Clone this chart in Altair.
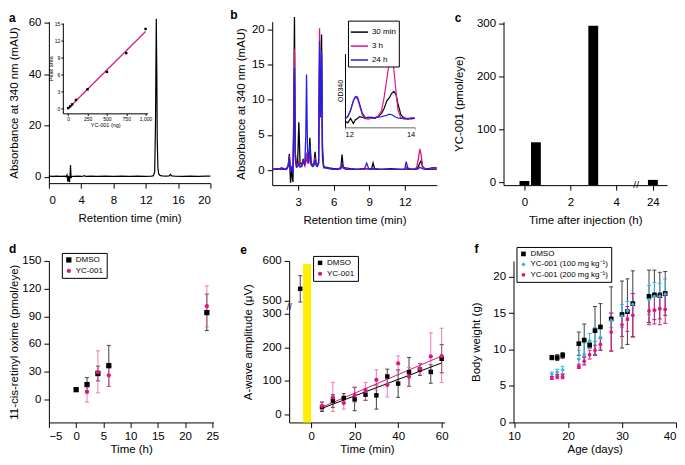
import altair as alt
import pandas as pd

FONT = "Liberation Sans"
INK = "#000000"
MAG = "#E0147E"
BLUE = "#2020E8"
CYAN = "#35B3E6"
YELLOW = "#FFEE00"
ERR_GREY = "#404040"
ERR_PINK = "#EA5AA4"

# ---------------- panel a : chromatogram + calibration inset ----------------
a_time = [0.0, 0.5, 1.0, 1.5, 2.0, 2.15, 2.25, 2.35, 2.45, 2.55, 2.62, 2.68, 2.75, 2.85, 3.1, 3.6,
          4.1, 4.4, 4.6, 5.2, 6.0, 7.0, 8.0, 9.0, 10.0, 11.0, 12.0, 12.7, 12.95, 13.1, 13.2, 13.3,
          13.36, 13.42, 13.5, 13.6, 13.75, 14.0, 14.5, 14.9, 15.05, 15.2, 15.6, 16.5, 17.5, 18.5, 19.5, 20.0]
a_abs = [0.3, 0.2, 0.3, 0.2, 0.3, 0.1, 0.8, -1.8, 0.4, -2.0, 0.5, 4.6, -0.4, 0.3, 0.2, 0.3,
         0.2, 0.5, 0.2, 0.3, 0.2, 0.3, 0.2, 0.3, 0.2, 0.3, 0.2, 0.3, 0.5, 2.0, 20.0, 61.5,
         42.0, 14.0, 3.5, 1.2, 0.6, 0.4, 0.3, 0.4, 1.0, 0.4, 0.3, 0.2, 0.3, 0.2, 0.3, 0.3]
cal_ng = [0, 25, 50, 100, 250, 500, 750, 1000]
cal_area = [0.0, 0.3, 0.65, 1.45, 3.35, 6.45, 9.8, 14.1]

# ---------------- panel b : chromatograms at three times ----------------
b_series = ["30 min", "3 h", "24 h"]
b_time = [0.8, 1.2, 1.6, 2.0, 2.15, 2.25, 2.35, 2.45, 2.55, 2.62, 2.68, 2.75, 2.85, 2.95, 3.05, 3.15,
          3.3, 3.42, 3.55, 3.64, 3.7, 3.78, 3.88, 3.98, 4.08, 4.2, 4.32, 4.42, 4.52, 4.62, 4.72, 4.8,
          4.88, 4.97, 5.05, 5.15, 5.3, 5.6, 6.0, 6.4, 6.6, 6.7, 6.8, 7.0, 7.4, 8.0, 8.6, 8.78,
          8.95, 9.2, 9.32, 9.45, 10.0, 10.8, 11.6, 12.0, 12.12, 12.25, 12.6, 13.0, 13.15, 13.27, 13.38, 13.5,
          13.7, 14.0, 14.3, 14.7]
b_30min = [0.2, 0.1, 0.3, 0.1, 0.6, 2.3, -1.8, 0.2, -1.7, 8.0, 21.8, 2.5, 0.6, 1.2, 6.8, 1.0,
           0.8, 1.6, 0.7, 1.4, 2.4, 1.2, 1.3, 4.6, 1.2, 0.7, 0.8, 2.6, 0.8, 0.6, 1.0, 15.5,
           9.0, 19.3, 3.0, 0.5, 0.4, 0.3, 0.2, 0.2, 0.3, 2.2, 0.4, 0.3, 0.2, 0.1, 0.2, 0.2,
           0.1, 0.2, 1.0, 0.2, 0.1, 0.2, 0.1, 0.1, 0.2, 0.1, 0.1, 0.2, 0.5, 1.0, 1.3, 0.5,
           0.2, 0.2, 0.3, 0.3]
b_3h = [0.2, 0.2, 0.1, 0.2, 0.7, 2.0, 0.2, 0.5, -0.3, 6.0, 17.3, 2.0, 0.5, 0.6, 1.2, 0.6,
        0.6, 1.3, 0.6, 1.3, 2.5, 1.0, 1.0, 3.0, 0.9, 0.6, 0.8, 1.8, 0.8, 0.6, 1.2, 20.2,
        8.0, 16.5, 2.0, 0.4, 0.3, 0.2, 0.1, 0.2, 0.3, 0.9, 0.3, 0.2, 0.1, 0.1, 0.1, 0.2,
        0.1, 0.1, 0.2, 0.1, 0.1, 0.1, 0.1, 0.1, 0.4, 0.2, 0.1, 0.3, 1.6, 3.0, 2.2, 0.6,
        0.2, 0.1, 0.2, 0.2]
b_24h = [0.1, 0.2, 0.1, 0.1, 0.5, 1.8, -0.2, 0.4, -0.5, 5.0, 14.5, 1.5, 0.4, 0.5, 0.9, 0.4,
         0.5, 1.2, 0.8, 5.0, 13.6, 3.0, 1.0, 3.6, 0.8, 0.5, 0.6, 1.5, 0.6, 0.5, 1.0, 18.4,
         7.5, 17.0, 1.6, 0.3, 0.3, 0.2, 0.1, 0.1, 0.2, 0.9, 0.3, 0.1, 0.1, 0.1, 0.2, 1.0,
         0.2, 0.1, 0.2, 0.1, 0.1, 0.1, 0.1, 0.1, 1.2, 0.3, 0.1, 0.1, 0.2, 0.4, 0.3, 0.2,
         0.1, 0.1, 0.1, 0.1]
# inset (12-14 min, OD340, relative units)
bi_time = [12.0, 12.08, 12.16, 12.24, 12.3, 12.36, 12.42, 12.5, 12.58, 12.66, 12.75, 12.85, 12.95,
           13.05, 13.12, 13.2, 13.27, 13.34, 13.4, 13.46, 13.52, 13.6, 13.7, 13.8, 13.9, 14.0]
bi_30min = [-0.02, -0.05, 0.02, -0.06, 0.0, 0.02, 0.05, 0.04, 0.02, 0.04, 0.03, 0.02, 0.05,
            0.10, 0.18, 0.30, 0.35, 0.42, 0.45, 0.40, 0.25, 0.08, 0.02, 0.01, 0.02, 0.02]
bi_3h = [0.01, 0.05, 0.15, 0.30, 0.36, 0.33, 0.22, 0.07, 0.02, 0.01, 0.02, 0.03, 0.06,
         0.15, 0.35, 0.65, 0.92, 1.0, 0.80, 0.45, 0.15, 0.03, 0.01, 0.02, 0.01, 0.02]
bi_24h = [0.02, 0.05, 0.15, 0.30, 0.37, 0.36, 0.25, 0.10, 0.04, 0.03, 0.04, 0.03, 0.04,
          0.05, 0.06, 0.07, 0.09, 0.08, 0.06, 0.04, 0.03, 0.02, 0.03, 0.02, 0.03, 0.03]

# ---------------- panel c : YC-001 in eye ----------------
c_time_h = [0, 0.5, 3, 24]
c_amount = [3, 76, 296, 5]

# ---------------- panel d : 11-cis-retinyl oxime ----------------
d_time_dmso = [0, 2, 4, 6, 24]
d_dmso = [10.5, 16.0, 28.0, 36.5, 94.0]
d_dmso_lo = [9.5, 9.0, 20.0, 14.0, 74.5]
d_dmso_hi = [11.5, 23.5, 36.0, 58.5, 114.0]
d_time_yc = [2, 4, 6, 24]
d_yc = [8.0, 29.5, 26.0, 101.0]
d_yc_lo = [-3.0, 7.0, 14.0, 78.5]
d_yc_hi = [18.0, 52.5, 38.0, 123.0]

# ---------------- panel e : A-wave amplitude ----------------
e_time = [5, 10, 15, 20, 25, 30, 35, 40, 45, 50, 55, 60]
e_dmso = [22, 41, 49, 45, 59, 57, 113, 92, 126, 134, 127, 166]
e_dmso_lo = [9, 21, 36, 11, 42, 16, 90, 51, 84, 116, 93, 124]
e_dmso_hi = [37, 59, 62, 80, 76, 88, 135, 133, 170, 152, 148, 208]
e_yc = [25, 51, 34, 58, 70, 103, 88, 152, 112, 136, 173, 174]
e_yc_lo = [12, 9, 16, 36, 43, 73, 52, 130, 84, 118, 120, 95]
e_yc_hi = [38, 95, 50, 82, 95, 133, 120, 174, 140, 152, 243, 257]
e_pre_time = [-5]
e_pre = [530]
e_pre_lo = [497]
e_pre_hi = [563]
e_light_start, e_light_end, e_light_top = -3.7, 0.0, 592

# ---------------- panel f : body weight ----------------
f_day = [17, 18, 19, 22, 23, 24, 25, 26, 28, 30, 31, 32, 35, 36, 37, 38]
f_dmso = [8.9, 8.9, 9.2, 10.8, 11.3, 10.6, 12.6, 13.1, 14.2, 14.8, 15.2, 16.3, 17.3, 17.5, 17.4, 17.7]
f_dmso_sd = [0.3, 0.4, 0.4, 1.6, 2.2, 0.4, 3.3, 3.2, 4.4, 4.6, 4.5, 4.5, 3.6, 3.4, 3.2, 3.0]
f_yc100 = [6.6, 6.9, 7.2, 8.7, 9.4, 11.2, 11.1, 11.7, 14.0, 14.6, 15.3, 16.2, 16.8, 17.3, 17.3, 17.6]
f_yc100_sd = [0.3, 0.4, 0.5, 1.2, 1.5, 1.0, 1.9, 1.5, 1.0, 1.6, 1.3, 1.5, 2.0, 1.9, 1.8, 2.1]
f_yc200 = [6.1, 6.3, 6.3, 7.7, 8.4, 9.3, 9.9, 10.7, 12.4, 13.4, 14.2, 14.7, 15.3, 15.4, 15.6, 15.5]
f_yc200_sd = [0.2, 0.3, 0.3, 0.3, 0.5, 0.6, 0.7, 0.8, 2.6, 1.6, 1.7, 3.0, 1.9, 1.9, 2.2, 1.9]
f_groups = ["DMSO", "YC-001 (100 mg kg\u207b\u00b9)", "YC-001 (200 mg kg\u207b\u00b9)"]


# ============================ helpers ============================
def ax(values=None, title=None, tp=6, lp=3, **kw):
    d = dict(title=title, titlePadding=tp, labelPadding=lp, tickSize=5, grid=False,
             domainColor=INK, tickColor=INK, labelColor=INK, titleColor=INK,
             labelFontSize=11.5, titleFontSize=11.5, titleFontWeight="normal",
             labelFont=FONT, titleFont=FONT, domainWidth=1, tickWidth=1)
    if values is not None:
        d["values"] = values
    d.update(kw)
    return alt.Axis(**d)


def small_ax(**kw):
    d = dict(grid=False, domainColor=INK, tickColor=INK, labelColor=INK, titleColor=INK,
             titleFontWeight="normal", labelFont=FONT, titleFont=FONT, tickSize=2, labelPadding=1)
    d.update(kw)
    return alt.Axis(**d)


def letter(s, dx, dy):
    return alt.TitleParams(s, anchor="start", frame="group", dx=dx, dy=dy, offset=0, fontSize=12,
                           fontWeight="bold", font=FONT, color=INK, baseline="alphabetic")


def legend(x, y, fs=8, rp=3, **kw):
    d = dict(title=None, orient="none", legendX=x, legendY=y, strokeColor=INK, fillColor="white",
             padding=3, labelFontSize=fs, labelFont=FONT, labelColor=INK, rowPadding=rp,
             labelOffset=3)
    d.update(kw)
    return alt.Legend(**d)


def long_df(groups):
    rows = []
    for name, ts, ms, los, his in groups:
        for t, m, lo, hi in zip(ts, ms, los, his):
            rows.append({"grp": name, "t": t, "m": m, "lo": lo, "hi": hi})
    return pd.DataFrame(rows)


def err_layers(src, grp, color, X, Y, ylo="lo", yhi="hi", cap=5, opacity=1.0):
    s = src.transform_filter(alt.datum.grp == grp)
    rule = s.mark_rule(color=color, strokeWidth=1, opacity=opacity).encode(
        x=X("t"), y=Y(ylo), y2=alt.Y2(yhi))
    lo = s.mark_tick(color=color, orient="horizontal", size=cap, thickness=1, opacity=opacity).encode(
        x=X("t"), y=Y(ylo))
    hi = s.mark_tick(color=color, orient="horizontal", size=cap, thickness=1, opacity=opacity).encode(
        x=X("t"), y=Y(yhi))
    return [rule, lo, hi]


def gap(w):
    return alt.Chart(pd.DataFrame({"g": [0]})).mark_point(opacity=0).encode(
        x=alt.value(0), y=alt.value(0)).properties(width=w, height=20)


INDEP = dict(color="independent", shape="independent", size="independent", stroke="independent")

# ============================ panel a ============================
AW, AH = 162, 162
a_main = alt.Chart(pd.DataFrame({"t": a_time, "v": a_abs})).mark_line(color=INK, strokeWidth=1.2).encode(
    x=alt.X("t:Q", scale=alt.Scale(domain=[0, 20], nice=False, zero=False),
            axis=ax([0, 4, 8, 12, 16, 20], "Retention time (min)", tp=7, lp=6)),
    y=alt.Y("v:Q", scale=alt.Scale(domain=[-2.4, 60.4], nice=False, zero=False),
            axis=ax([0, 20, 40, 60], "Absorbance at 340 nm (mAU)", tp=9)),
)
cal = pd.DataFrame({"ng": cal_ng, "area": cal_area})
ai_x = alt.X("ng:Q", scale=alt.Scale(domain=[-70, 1026], range=[14, 99], nice=False, zero=False),
             axis=small_ax(orient="bottom", offset=92 - AH, values=[0, 250, 500, 750, 1000],
                           title="YC-001 (ng)", labelFontSize=5, titleFontSize=5.5, titlePadding=1))
ai_y = alt.Y("area:Q", scale=alt.Scale(domain=[-0.94, 15.14], range=[92, 1.5], nice=False, zero=False),
             axis=small_ax(orient="left", offset=-14, values=[0, 3, 6, 9, 12, 15],
                           title="Peak area", labelFontSize=5, titleFontSize=5.5, titlePadding=1))
a_fit = alt.Chart(cal).transform_regression("ng", "area").mark_line(color=MAG, strokeWidth=1.2).encode(
    x=ai_x, y=ai_y)
a_pts = alt.Chart(cal).mark_point(shape="square", filled=True, color=INK, size=6, opacity=1).encode(
    x=ai_x, y=ai_y)
panel_a = alt.layer(a_main, alt.layer(a_fit, a_pts)).resolve_scale(
    x="independent", y="independent").properties(width=AW, height=AH, title=letter("a", -40, 17.5))

# ============================ panel b ============================
BW, BH = 165, 164
b_rows = []
for name, vals in zip(b_series, [b_30min, b_3h, b_24h]):
    for t, v in zip(b_time, vals):
        b_rows.append({"series": name, "t": t, "v": v})
bi_rows = []
for name, vals in zip(b_series, [bi_30min, bi_3h, bi_24h]):
    for t, v in zip(bi_time, vals):
        bi_rows.append({"series": name, "t": t, "v": v})
b_main = alt.Chart(pd.DataFrame(b_rows)).mark_line(strokeWidth=1.3).encode(
    x=alt.X("t:Q", scale=alt.Scale(domain=[0.8, 14.7], nice=False, zero=False),
            axis=ax([3, 6, 9, 12], "Retention time (min)", tp=7, lp=6)),
    y=alt.Y("v:Q", scale=alt.Scale(domain=[-2.15, 21.15], nice=False, zero=False),
            axis=ax([0, 5, 10, 15, 20], "Absorbance at 340 nm (mAU)", tp=5)),
    color=alt.Color("series:N", scale=alt.Scale(domain=b_series, range=[INK, MAG, BLUE]),
                    legend=legend(76, -1, fs=8, rp=0, symbolType="stroke", symbolSize=300,
                                  symbolStrokeWidth=1.5, padding=2)),
)
b_inset = alt.Chart(pd.DataFrame(bi_rows)).mark_line(strokeWidth=1.2).encode(
    x=alt.X("t:Q", scale=alt.Scale(domain=[12, 14], range=[73, 143], nice=False, zero=False),
            axis=small_ax(orient="bottom", offset=106 - BH, values=[12, 14], title=None,
                          labelFontSize=7.5, domainColor="#9a9a9a", domainWidth=1.5, tickColor="#9a9a9a")),
    y=alt.Y("v:Q", scale=alt.Scale(domain=[-0.12, 1.05], range=[106, 32], nice=False, zero=False),
            axis=small_ax(orient="left", offset=-73, ticks=False, labels=False, title="OD340",
                          titleFontSize=7, titlePadding=2)),
    stroke=alt.Stroke("series:N", scale=alt.Scale(domain=b_series, range=[INK, MAG, BLUE]), legend=None),
)
panel_b = alt.layer(b_main, b_inset).resolve_scale(
    x="independent", y="independent").properties(width=BW, height=BH, title=letter("b", -42, 16.6))

# ============================ panel c ============================
CW, CH = 164, 164
C_FLOOR = -4.9
c_base = alt.Chart(pd.DataFrame({"t": c_time_h, "amt": c_amount})).transform_calculate(
    pos="datum.t == 24 ? 5.6 : datum.t").transform_calculate(
    lo="datum.pos - 0.215", hi="datum.pos + 0.215", floor=str(C_FLOOR))
c_x = dict(scale=alt.Scale(domain=[-0.913, 6.217], nice=False, zero=False),
           axis=ax([0, 2, 4, 5.6], "Time after injection (h)", tp=7, lp=6,
                   labelExpr="datum.value > 5 ? '24' : datum.label"))
c_y = dict(scale=alt.Scale(domain=[C_FLOOR, 303.8], nice=False, zero=False),
           axis=ax([0, 100, 200, 300], "YC-001 (pmol/eye)", tp=12))
c_bars = c_base.mark_bar(color=INK).encode(
    x=alt.X("lo:Q", **c_x), x2=alt.X2("hi"), y=alt.Y("amt:Q", **c_y), y2=alt.Y2("floor"))
c_break = alt.Chart(pd.DataFrame({"pos": [4.87], "y": [C_FLOOR]})).mark_text(
    text="//", fontSize=10, font=FONT, color=INK, baseline="middle").encode(
    x=alt.X("pos:Q", **c_x), y=alt.Y("y:Q", **c_y))
panel_c = alt.layer(c_bars, c_break).properties(width=CW, height=CH, title=letter("c", -49, 16))

# ============================ panel d ============================
DW, DH = 165, 162
d_df = long_df([("DMSO", d_time_dmso, d_dmso, d_dmso_lo, d_dmso_hi),
                ("YC-001", d_time_yc, d_yc, d_yc_lo, d_yc_hi)])


def d_X(f):
    return alt.X(f"{f}:Q", scale=alt.Scale(domain=[-5, 25.2], nice=False, zero=False),
                 axis=ax([-5, 0, 5, 10, 15, 20, 25], "Time (h)", tp=2, lp=3))


def d_Y(f):
    return alt.Y(f"{f}:Q", scale=alt.Scale(domain=[-25, 150], nice=False, zero=False),
                 axis=ax([0, 30, 60, 90, 120, 150], "11-cis-retinyl oxime (pmol/eye)", tp=2))


d_src = alt.Chart(d_df)
d_leg = legend(13, -8, fs=8, rp=3)
d_pts = d_src.mark_point(filled=True, opacity=1).encode(
    x=d_X("t"), y=d_Y("m"),
    color=alt.Color("grp:N", scale=alt.Scale(domain=["DMSO", "YC-001"], range=[INK, MAG]), legend=d_leg),
    shape=alt.Shape("grp:N", scale=alt.Scale(domain=["DMSO", "YC-001"], range=["square", "circle"]), legend=d_leg),
    size=alt.Size("grp:N", scale=alt.Scale(domain=["DMSO", "YC-001"], range=[28, 18]), legend=None),
)
panel_d = alt.layer(
    *err_layers(d_src, "DMSO", ERR_GREY, d_X, d_Y, cap=4),
    *err_layers(d_src, "YC-001", ERR_PINK, d_X, d_Y, cap=4, opacity=0.8),
    d_pts,
).properties(width=DW, height=DH, title=letter("d", -40, 13))

# ============================ panel e ============================
EW, EH = 156, 162
E_FLOOR = -23.7
BRK = "(datum.{f} <= 300 ? datum.{f} : 338.6 + (datum.{f} - 500) * 1.188)"
e_df = long_df([("DMSO", e_time, e_dmso, e_dmso_lo, e_dmso_hi),
                ("YC-001", e_time, e_yc, e_yc_lo, e_yc_hi),
                ("DMSO", e_pre_time, e_pre, e_pre_lo, e_pre_hi)])
e_src = alt.Chart(e_df).transform_calculate(
    dm=BRK.format(f="m"), dlo=BRK.format(f="lo"), dhi=BRK.format(f="hi"))


def e_X(f):
    return alt.X(f"{f}:Q", scale=alt.Scale(domain=[-10.1, 61.4], nice=False, zero=False),
                 axis=ax([0, 20, 40, 60], "Time (min)", tp=2, lp=3))


def e_Y(f):
    return alt.Y(f"{f}:Q", scale=alt.Scale(domain=[E_FLOOR, 457.4], nice=False, zero=False),
                 axis=ax([0, 100, 200, 300, 338.6, 457.4], "A-wave amplitude (\u03bcV)", tp=9,
                         labelExpr="datum.value > 400 ? '600' : (datum.value > 320 ? '500' : datum.label)"))


light = alt.Chart(pd.DataFrame({"t0": [e_light_start], "t1": [e_light_end], "top": [e_light_top],
                                "bot": [E_FLOOR]})).transform_calculate(
    dtop=BRK.format(f="top")).mark_rect(color=YELLOW).encode(
    x=e_X("t0"), x2=alt.X2("t1"), y=e_Y("bot"), y2=alt.Y2("dtop"))
e_fit_d = e_src.transform_filter("datum.t >= 5 && datum.grp == 'DMSO'").transform_regression(
    "t", "dm").mark_line(color=INK, strokeWidth=1).encode(x=e_X("t"), y=e_Y("dm"))
e_fit_y = e_src.transform_filter("datum.t >= 5 && datum.grp == 'YC-001'").transform_regression(
    "t", "dm").mark_line(color=MAG, strokeWidth=1).encode(x=e_X("t"), y=e_Y("dm"))
e_leg = legend(24, -5, fs=8, rp=3)
e_pts = e_src.mark_point(filled=True, opacity=1).encode(
    x=e_X("t"), y=e_Y("dm"),
    color=alt.Color("grp:N", scale=alt.Scale(domain=["DMSO", "YC-001"], range=[INK, MAG]), legend=e_leg),
    shape=alt.Shape("grp:N", scale=alt.Scale(domain=["DMSO", "YC-001"], range=["square", "circle"]), legend=e_leg),
    size=alt.Size("grp:N", scale=alt.Scale(domain=["DMSO", "YC-001"], range=[20, 18]), legend=None),
)
e_break = alt.Chart(pd.DataFrame({"t": [-10.1], "y": [319]})).mark_text(
    text="//", fontSize=9, font=FONT, color=INK, baseline="middle").encode(x=e_X("t"), y=e_Y("y"))
panel_e = alt.layer(
    light,
    *err_layers(e_src, "DMSO", ERR_GREY, e_X, e_Y, ylo="dlo", yhi="dhi", cap=4),
    *err_layers(e_src, "YC-001", ERR_PINK, e_X, e_Y, ylo="dlo", yhi="dhi", cap=4, opacity=0.8),
    e_fit_d, e_fit_y, e_pts, e_break,
).properties(width=EW, height=EH, title=letter("e", -49, 11.5))

# ============================ panel f ============================
FW, FH = 163, 162
f_df = long_df([
    (f_groups[0], f_day, f_dmso, [m - s for m, s in zip(f_dmso, f_dmso_sd)], [m + s for m, s in zip(f_dmso, f_dmso_sd)]),
    (f_groups[1], f_day, f_yc100, [m - s for m, s in zip(f_yc100, f_yc100_sd)], [m + s for m, s in zip(f_yc100, f_yc100_sd)]),
    (f_groups[2], f_day, f_yc200, [m - s for m, s in zip(f_yc200, f_yc200_sd)], [m + s for m, s in zip(f_yc200, f_yc200_sd)]),
])


def f_X(f):
    return alt.X(f"{f}:Q", scale=alt.Scale(domain=[9.9, 40], nice=False, zero=False),
                 axis=ax([10, 20, 30, 40], "Age (days)", tp=2, lp=3, labelFlush=0.3))


def f_Y(f):
    return alt.Y(f"{f}:Q", scale=alt.Scale(domain=[0, 22.16], nice=False, zero=False),
                 axis=ax([0, 5, 10, 15, 20], "Body weight (g)", tp=11))


f_src = alt.Chart(f_df)
f_leg = legend(3, -14, fs=8, rp=2.5)
f_pts = f_src.mark_point(filled=True, opacity=1).encode(
    x=f_X("t"), y=f_Y("m"),
    color=alt.Color("grp:N", scale=alt.Scale(domain=f_groups, range=[INK, CYAN, MAG]), legend=f_leg),
    shape=alt.Shape("grp:N", scale=alt.Scale(domain=f_groups, range=["square", "diamond", "circle"]), legend=f_leg),
    size=alt.Size("grp:N", scale=alt.Scale(domain=f_groups, range=[22, 14, 22]), legend=None),
)
panel_f = alt.layer(
    *err_layers(f_src, f_groups[0], ERR_GREY, f_X, f_Y, cap=4),
    *err_layers(f_src, f_groups[1], CYAN, f_X, f_Y, cap=4),
    *err_layers(f_src, f_groups[2], MAG, f_X, f_Y, cap=4),
    f_pts,
).properties(width=FW, height=FH, title=letter("f", -39, 19))

# ============================ assemble ============================
row1 = alt.hconcat(panel_a, gap(62), panel_b, gap(67), panel_c,
                   spacing=0, bounds="flush").resolve_scale(**INDEP)
row2 = alt.hconcat(panel_d, gap(76), panel_e, gap(69), panel_f,
                   spacing=0, bounds="flush").resolve_scale(**INDEP)
chart = alt.vconcat(row1, row2, spacing=240, bounds="flush").resolve_scale(**INDEP).properties(
    padding={"left": 0, "top": 0, "right": 0, "bottom": 0}
).configure_view(stroke=None).configure_text(font=FONT).configure_title(font=FONT)

chart.save("out.html", embed_options={"renderer": "svg", "actions": False})
